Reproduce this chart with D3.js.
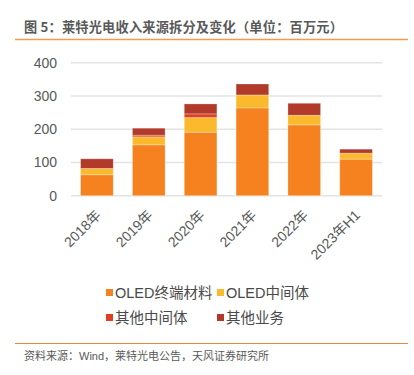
<!DOCTYPE html>
<html>
<head>
<meta charset="utf-8">
<script src="https://cdn.jsdelivr.net/npm/d3@7"></script>
<style>
  body { margin: 0; background: #fff; }
  svg { font-family: "Liberation Sans", "Noto Sans CJK SC", sans-serif; }
</style>
</head>
<body>
<script>
const years = ["2018年", "2019年", "2020年", "2021年", "2022年", "2023年H1"];
const oledTerminal = [63, 153, 191, 264, 213, 110];
const oledMid = [19, 24, 44, 39, 29, 18];
const otherMid = [0, 5, 11, 0, 0, 0];
const otherBiz = [29, 21, 30, 33, 36, 12];
const yTicks = [0, 100, 200, 300, 400];

const seriesNames = ["OLED终端材料", "OLED中间体", "其他中间体", "其他业务"];
const seriesValues = [oledTerminal, oledMid, otherMid, otherBiz];
const colors = ["#F5821F", "#FBBA2D", "#E0401F", "#B23A2B"];

const w = 414;
const h = 375;
const margin = { left: 71, right: 32, top: 63, bottom: 180 };

const svg = d3.select("body").append("svg")
  .attr("width", w)
  .attr("height", h);

// header
svg.append("text")
  .attr("x", 24)
  .attr("y", 32)
  .attr("font-size", 13.2)
  .attr("font-weight", 600)
  .attr("letter-spacing", 0.2)
  .attr("font-family", "Noto Sans CJK SC, sans-serif")
  .attr("fill", "#595959")
  .text("图 5：莱特光电收入来源拆分及变化（单位：百万元）");

svg.append("line")
  .attr("x1", 15).attr("x2", 408)
  .attr("y1", 39.5).attr("y2", 39.5)
  .attr("stroke", "#F39A4E")
  .attr("stroke-width", 1.5);

const rows = years.map((y, i) => {
  const r = { year: y };
  seriesNames.forEach((n, k) => r[n] = seriesValues[k][i]);
  return r;
});
const stacked = d3.stack().keys(seriesNames)(rows);

const x = d3.scaleBand()
  .domain(years)
  .range([margin.left, w - margin.right])
  .paddingInner(0.37)
  .paddingOuter(0.185);

const yScale = d3.scaleLinear()
  .domain([0, 400])
  .range([195.7, 62.7]);

// grid
svg.append("g")
  .selectAll("line")
  .data(yTicks)
  .enter()
  .append("line")
  .attr("x1", margin.left)
  .attr("x2", w - margin.right)
  .attr("y1", d => yScale(d))
  .attr("y2", d => yScale(d))
  .attr("stroke", "#e3e3e3")
  .attr("stroke-width", 1.5);

// y axis labels
const yAxis = d3.axisLeft(yScale).tickValues(yTicks).tickSize(0).tickPadding(14);
svg.append("g")
  .attr("transform", `translate(${margin.left},0)`)
  .call(yAxis)
  .call(g => g.select(".domain").remove())
  .call(g => g.selectAll("text")
    .attr("font-size", 14)
    .attr("fill", "#595959")
    .attr("font-family", "Liberation Sans, sans-serif"));

// bars
svg.append("g")
  .selectAll("g")
  .data(stacked)
  .enter()
  .append("g")
  .attr("fill", (d, i) => colors[i])
  .selectAll("rect")
  .data(d => d)
  .enter()
  .append("rect")
  .attr("x", d => x(d.data.year))
  .attr("y", d => yScale(d[1]))
  .attr("width", x.bandwidth())
  .attr("height", d => yScale(d[0]) - yScale(d[1]))
  .attr("stroke", "rgba(255,255,255,0.35)")
  .attr("stroke-width", 0.8);

// x labels
svg.append("g")
  .selectAll("text")
  .data(years)
  .enter()
  .append("text")
  .attr("text-anchor", "end")
  .attr("font-size", 14)
  .attr("fill", "#595959")
  .attr("transform", d => `translate(${x(d) + x.bandwidth() / 2 + 5},${216}) rotate(-45)`)
  .text(d => d);

// legend
const legendPos = [[106, 293], [217, 293], [106, 318], [217, 318]];
const legend = svg.append("g")
  .selectAll("g")
  .data(seriesNames)
  .enter()
  .append("g")
  .attr("transform", (d, i) => `translate(${legendPos[i][0]},${legendPos[i][1]})`);

legend.append("rect")
  .attr("x", 0)
  .attr("y", -4)
  .attr("width", 7)
  .attr("height", 7)
  .attr("fill", (d, i) => colors[i]);

legend.append("text")
  .attr("x", 9)
  .attr("y", 5)
  .attr("font-size", 14.5)
  .attr("fill", "#4a4a4a")
  .text(d => d);

// footer
svg.append("line")
  .attr("x1", 15).attr("x2", 408)
  .attr("y1", 343.5).attr("y2", 343.5)
  .attr("stroke", "#E8883A")
  .attr("stroke-width", 1.2);

svg.append("text")
  .attr("x", 24)
  .attr("y", 360)
  .attr("font-size", 11)
  .attr("fill", "#595959")
  .text("资料来源：Wind，莱特光电公告，天风证券研究所");
</script>
</body>
</html>
